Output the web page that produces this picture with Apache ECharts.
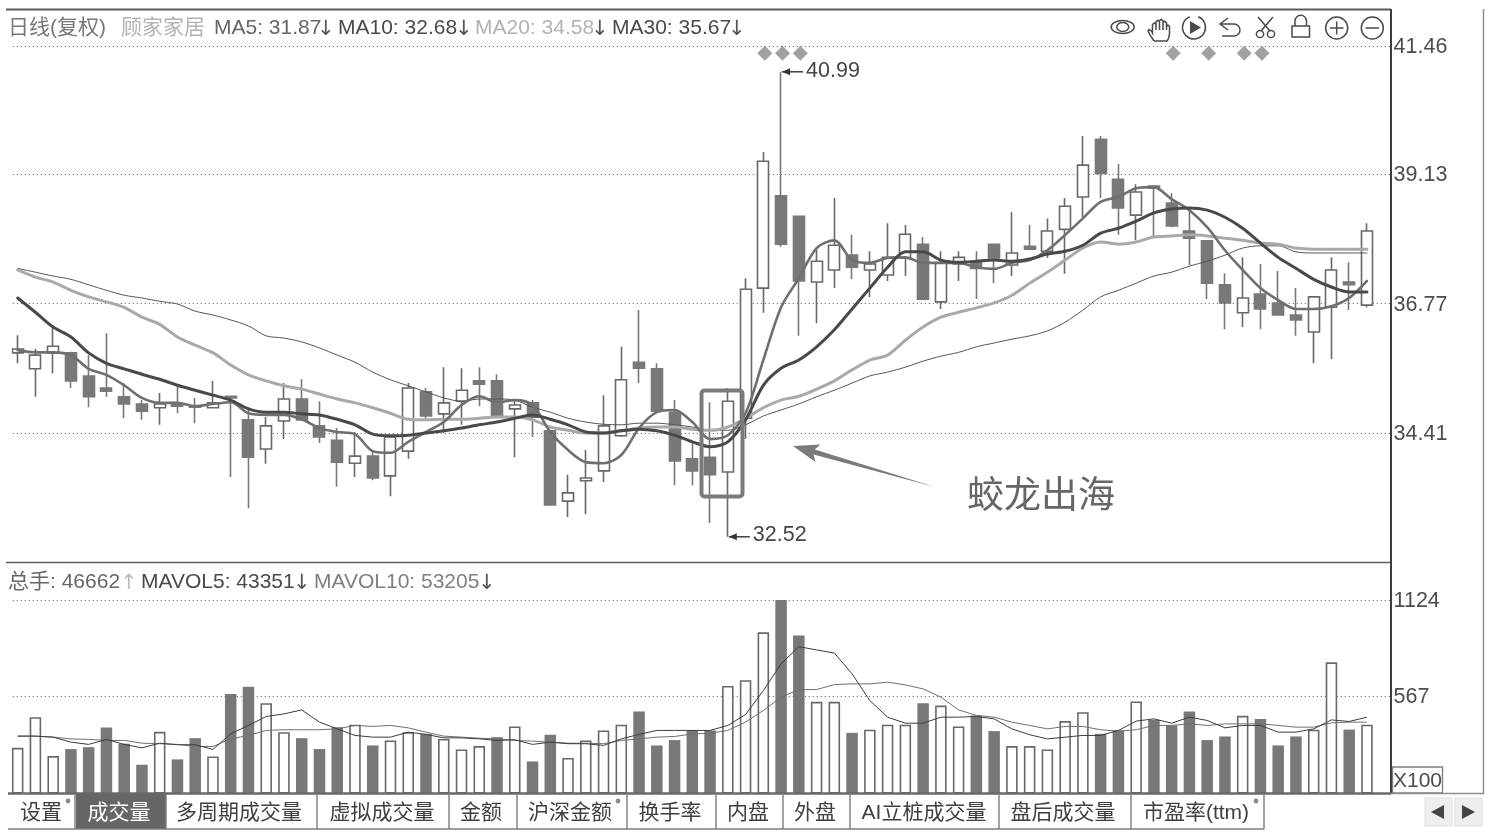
<!DOCTYPE html>
<html>
<head>
<meta charset="utf-8">
<title>顾家家居 日线</title>
<style>
  html, body { margin: 0; padding: 0; background: #fff; }
  #chart { width: 1489px; height: 834px; }
</style>
<script src="https://cdn.jsdelivr.net/npm/echarts@6/dist/echarts.min.js"></script>
</head>
<body>
<div id="chart"></div>
<script>
// Daily prices, oldest first
const opens = [35.87,35.58,35.87,35.87,35.45,35.23,35.07,34.94,34.87,34.94,
  34.90,34.87,35.08,34.65,34.12,34.63,35.03,34.54,34.28,33.86,
  33.99,33.63,34.08,35.16,34.76,34.99,35.36,35.36,34.85,34.96,
  34.45,33.17,33.54,33.72,34.36,35.70,35.58,34.79,33.94,33.97,
  33.70,34.68,37.05,38.73,38.36,37.16,37.38,37.65,37.38,37.29,
  37.60,37.85,36.80,37.49,37.51,37.85,37.47,37.81,37.72,38.12,
  38.71,39.76,39.03,38.38,38.91,38.60,38.09,37.91,37.11,36.60,
  36.94,36.78,36.56,36.25,36.70,37.16,36.74];
const closes = [35.94,35.83,35.99,35.36,35.07,35.17,34.94,34.81,34.94,34.90,
  34.88,34.96,35.05,33.97,34.54,35.03,34.65,34.34,33.88,33.99,
  33.59,34.34,35.23,34.72,34.96,35.19,35.30,34.72,34.92,34.70,
  33.10,33.32,33.59,34.54,35.38,35.59,34.81,33.90,33.72,33.65,
  34.99,37.03,39.36,37.85,37.18,37.54,37.83,37.43,37.49,37.61,
  38.03,36.85,37.51,37.61,37.41,37.60,37.69,37.76,38.09,38.54,
  39.29,39.14,38.51,38.80,38.87,38.18,37.96,37.14,36.78,36.87,
  36.67,36.56,36.47,36.89,37.38,37.11,38.09];
const lows = [35.68,35.07,35.50,35.23,34.88,35.07,34.68,34.65,34.56,34.77,
  34.59,34.87,33.61,33.04,33.85,34.30,34.65,34.23,33.43,33.61,
  33.55,33.26,33.94,34.68,34.41,34.56,34.90,34.70,33.97,34.34,
  33.10,32.88,32.93,33.52,34.34,35.32,34.79,33.46,33.46,32.77,
  32.52,34.30,36.60,37.80,36.18,36.41,37.05,37.21,36.89,37.18,
  37.27,36.85,36.67,37.18,36.85,37.14,37.27,37.74,37.60,37.31,
  38.34,38.69,38.02,37.92,38.00,38.16,37.47,36.85,36.30,36.34,
  36.30,36.56,36.18,35.68,35.76,36.65,36.70];
const highs = [36.19,35.94,36.34,35.89,35.83,36.23,35.32,35.01,35.14,35.27,
  35.05,35.36,35.08,34.88,34.70,35.32,35.39,34.99,34.50,34.43,
  34.06,34.37,35.32,35.23,35.61,35.59,35.61,35.48,35.01,35.01,
  34.46,33.65,34.10,35.10,35.98,36.65,35.68,35.01,34.23,34.97,
  35.23,37.23,39.53,40.99,38.36,37.76,38.69,38.02,37.72,38.23,
  38.20,37.98,37.72,37.72,37.72,37.85,38.43,38.20,38.32,38.69,
  39.82,39.82,39.31,38.94,38.91,38.78,38.47,37.91,37.32,37.61,
  37.49,37.36,37.05,36.89,37.61,37.52,38.23];

// Moving averages of the close
const ma5 = [35.92,35.88,35.88,35.83,35.58,35.47,35.28,35.05,34.96,34.96,
  34.90,34.94,34.97,34.77,34.74,34.74,34.66,34.50,34.43,34.39,
  34.08,34.05,34.25,34.43,34.61,34.92,35.08,34.97,35.01,34.92,
  34.43,34.10,33.88,33.86,34.01,34.50,34.79,34.83,34.61,34.30,
  34.37,34.77,35.74,36.70,37.23,37.78,37.92,37.56,37.51,37.60,
  37.61,37.51,37.51,37.51,37.43,37.40,37.51,37.56,37.74,38.02,
  38.32,38.62,38.71,38.87,38.89,38.67,38.47,38.16,37.74,37.38,
  37.05,36.83,36.67,36.67,36.72,36.87,37.18];
const ma10 = [36.87,36.61,36.34,36.16,35.87,35.68,35.58,35.48,35.39,35.28,
  35.19,35.10,35.01,34.85,34.79,34.79,34.76,34.74,34.66,34.56,
  34.39,34.36,34.37,34.41,34.45,34.50,34.56,34.61,34.68,34.74,
  34.66,34.56,34.43,34.41,34.45,34.48,34.45,34.37,34.25,34.16,
  34.25,34.65,35.28,35.59,35.74,35.98,36.29,36.67,37.05,37.43,
  37.71,37.71,37.56,37.52,37.54,37.56,37.54,37.58,37.67,37.72,
  37.83,38.05,38.14,38.27,38.42,38.49,38.51,38.47,38.34,38.14,
  37.87,37.61,37.41,37.21,37.07,36.98,36.98];
const ma20 = [37.38,37.25,37.16,37.01,36.89,36.80,36.70,36.52,36.39,36.16,
  36.01,35.87,35.65,35.47,35.36,35.27,35.21,35.12,35.03,34.96,
  34.87,34.77,34.66,34.65,34.66,34.66,34.68,34.70,34.70,34.65,
  34.52,34.46,34.41,34.41,34.45,34.50,34.52,34.52,34.48,34.46,
  34.52,34.68,34.87,35.01,35.08,35.21,35.36,35.56,35.74,35.83,
  36.10,36.34,36.52,36.61,36.69,36.78,36.92,37.14,37.34,37.56,
  37.78,37.89,37.85,37.89,37.98,38.00,38.02,38.00,37.96,37.92,
  37.87,37.85,37.78,37.76,37.76,37.76,37.76];
const ma30 = [37.41,37.34,37.27,37.21,37.11,37.01,36.92,36.87,36.81,36.76,
  36.63,36.56,36.47,36.36,36.18,36.14,36.07,35.96,35.83,35.70,
  35.52,35.38,35.27,35.16,35.05,34.99,35.03,35.03,35.01,34.88,
  34.79,34.68,34.61,34.57,34.56,34.59,34.59,34.56,34.52,34.46,
  34.46,34.56,34.72,34.83,34.94,35.07,35.19,35.32,35.45,35.52,
  35.61,35.72,35.81,35.88,35.98,36.05,36.12,36.18,36.27,36.43,
  36.65,36.89,37.01,37.14,37.27,37.34,37.45,37.54,37.65,37.78,
  37.82,37.82,37.71,37.69,37.69,37.69,37.69];

// Volume in hundreds of lots; 1 marks a solid (falling-day) bar
const volumes = [266,444,218,259,270,384,290,168,359,199,
  322,216,579,620,525,357,322,259,386,400,
  280,309,357,347,318,257,276,328,390,187,
  342,207,309,367,400,477,280,311,367,367,
  625,658,936,1124,917,533,533,353,371,400,
  400,525,511,390,454,363,276,276,257,421,
  473,347,367,535,428,396,477,311,332,452,
  434,280,332,371,762,372,400];
const volumeSolid = [0,0,0,1,1,1,1,1,0,1,
  1,0,1,1,0,0,1,1,1,0,
  1,0,0,1,0,0,0,1,0,1,
  1,0,0,0,0,1,1,1,1,1,
  0,0,0,1,1,0,0,1,0,0,
  0,1,0,0,1,1,0,0,0,0,
  0,1,1,0,1,1,1,1,1,0,
  1,1,1,0,0,1,0];
const mavol5 = [334,334,328,299,286,315,286,266,293,284,
  284,257,347,396,448,463,486,415,376,338,
  328,328,357,344,324,324,318,309,313,286,
  299,290,290,280,318,344,367,367,367,367,
  396,459,598,753,853,834,816,695,540,444,
  409,409,444,444,448,434,376,342,318,328,
  338,338,367,421,434,409,444,425,382,396,
  396,357,357,376,428,419,444];
const mavol10 = [334,334,328,318,315,309,309,293,290,286,
  274,274,318,338,367,371,371,371,376,396,
  390,396,382,357,334,328,322,318,309,305,
  299,293,293,290,309,318,328,332,347,351,
  367,415,483,560,604,604,633,637,637,647,
  631,608,560,486,454,444,415,396,376,390,
  390,371,363,371,396,396,405,396,405,405,
  405,396,386,386,411,415,415];

// Axis ticks and signal days
const priceTicks = [34.41, 36.77, 39.13, 41.46];
const volumeTicks = [567, 1124];
const signalDays = [42, 43, 44, 65, 67, 69, 70];
const signalLevel = 41.33;

// One spare slot on the right keeps the last candle clear of the price scale
const days = Array.from({ length: opens.length + 1 }, (_, i) => String(i));

const candles = opens.map((o, i) => [o, closes[i], lows[i], highs[i]]);
const LATIN = "'Liberation Sans','Noto Sans CJK SC',sans-serif";
const GRID = { type: [1, 3], color: '#5a5a5a', width: 1 };
const DOWN = '#787878';
const EDGE = '#686868';

// Scale labels sit a little below their gridline
const scaleLabel = {
  margin: 0,
  rich: { n: { color: '#4d4d4d', fontSize: 21.5, fontFamily: LATIN, padding: [3, 0, 0, 0] } }
};

function maLine(name, data, color, width) {
  return {
    name, type: 'line', data, xAxisIndex: 0, yAxisIndex: 0,
    showSymbol: false, smooth: 0.3, z: 4, silent: true,
    lineStyle: { color, width, cap: 'round', join: 'round' }
  };
}
function volLine(name, data, color) {
  return {
    name, type: 'line', data, xAxisIndex: 1, yAxisIndex: 1,
    showSymbol: false, z: 4, silent: true,
    lineStyle: { color, width: 1 }
  };
}

const chart = echarts.init(document.getElementById('chart'), null, { renderer: 'canvas' });

chart.setOption({
  animation: false,
  backgroundColor: '#fff',
  grid: [
    { left: 8.79, top: 9, width: 1384.8, height: 553 },
    { left: 8.79, top: 562, width: 1384.8, height: 231.7 }
  ],
  xAxis: [0, 1].map(g => ({
    type: 'category', gridIndex: g, data: days, show: false,
    axisTick: { show: false }, axisLabel: { show: false }
  })),
  yAxis: [
    {
      type: 'value', gridIndex: 0, position: 'right', min: 32.061, max: 42.134,
      axisLine: { show: false },
      axisTick: { show: false, customValues: priceTicks },
      axisLabel: { ...scaleLabel, customValues: priceTicks, formatter: v => '{n|' + v.toFixed(2) + '}' },
      splitLine: { show: true, lineStyle: GRID }
    },
    {
      type: 'value', gridIndex: 1, position: 'right', min: 0, max: 1344,
      axisLine: { show: false },
      axisTick: { show: false, customValues: volumeTicks },
      axisLabel: { ...scaleLabel, customValues: volumeTicks, formatter: v => '{n|' + v + '}' },
      splitLine: { show: true, lineStyle: GRID }
    }
  ],
  series: [
    {
      name: '日线', type: 'candlestick', data: candles, xAxisIndex: 0, yAxisIndex: 0,
      barWidth: 11.5, z: 3, silent: true,
      itemStyle: {
        color: '#fff', color0: DOWN, borderColor: EDGE, borderColor0: DOWN, borderWidth: 1.6
      }
    },
    maLine('MA30', ma30, '#555', 1),
    maLine('MA20', ma20, '#a9a9a9', 3),
    maLine('MA5', ma5, '#6f6f6f', 2.6),
    maLine('MA10', ma10, '#494949', 3),
    {
      name: '信号', type: 'scatter', data: signalDays.map(d => [d, signalLevel]),
      xAxisIndex: 0, yAxisIndex: 0, symbol: 'diamond', symbolSize: 15,
      symbolOffset: [1.5, 0], itemStyle: { color: '#8a8a8a' }, z: 5, silent: true
    },
    {
      name: '总手', type: 'bar', xAxisIndex: 1, yAxisIndex: 1, barWidth: 11.5, z: 3, silent: true,
      data: volumes.map((v, i) => ({
        value: v,
        itemStyle: volumeSolid[i]
          ? { color: DOWN }
          : { color: '#fff', borderColor: EDGE, borderWidth: 1.6 }
      }))
    },
    volLine('MAVOL10', mavol10, '#707070'),
    volLine('MAVOL5', mavol5, '#3d3d3d')
  ]
});

// Drawing helpers for the terminal's chrome
const TOP = 20;
const INK = '#4a4a4a';
const text = (s, x, y, size, fill, align, family) => ({
  type: 'text', z: TOP, silent: true,
  style: { text: s, x, y, fill, align: align || 'left', verticalAlign: 'middle', font: size + 'px ' + (family || LATIN) }
});
const arrowText = (s, x, y, fill) => text(s, x, y, 21, fill, 'left', "'DejaVu Sans'");
const line = (x1, y1, x2, y2, stroke, lineWidth) => ({
  type: 'line', z: TOP, silent: true, shape: { x1, y1, x2, y2 }, style: { stroke, lineWidth }
});
const rect = (x, y, width, height, fill, stroke, lineWidth, r) => ({
  type: 'rect', z: TOP - 1, silent: true, shape: { x, y, width, height, r: r || 0 },
  style: { fill: fill || 'none', stroke: stroke || 'none', lineWidth: lineWidth || 0 }
});
const ring = (cx, cy, r) => ({
  type: 'circle', z: TOP, silent: true, shape: { cx, cy, r },
  style: { fill: 'none', stroke: INK, lineWidth: 1.5 }
});
const poly = (points, fill) => ({
  type: 'polygon', z: TOP, silent: true, shape: { points }, style: { fill }
});
const stroke = (points) => ({
  type: 'polyline', z: TOP, silent: true, shape: { points },
  style: { fill: 'none', stroke: INK, lineWidth: 1.5 }
});
const arc = (cx, cy, r, startAngle, endAngle) => ({
  type: 'arc', z: TOP, silent: true, shape: { cx, cy, r, startAngle, endAngle, clockwise: true },
  style: { fill: 'none', stroke: INK, lineWidth: 1.5 }
});
const ellipse = (cx, cy, rx, ry) => ({
  type: 'ellipse', z: TOP, silent: true, shape: { cx, cy, rx, ry },
  style: { fill: 'none', stroke: INK, lineWidth: 1.5 }
});

// Outline of the hand tool, as offsets from its top-left corner
const handOutline = [[6,22],[3,17.5],[0,12],[1,10.5],[3.5,12],[4.5,14],[4.5,5.5],[6.2,4],[8,5.5],[8,11],
  [8,2.8],[9.8,1.3],[11.5,2.8],[11.5,11],[11.5,1.8],[13.2,0.3],[15,1.8],[15,11],[15,3.8],[16.7,2.3],
  [18.5,3.8],[18.5,11],[18.5,7.5],[20,6],[21.5,7.5],[21.5,15],[20.5,19.5],[19,22],[6,22]];

// Tab strip under the volume pane
const tabs = [
  ['设置', 41, 75], ['成交量', 119, 166], ['多周期成交量', 239, 317], ['虚拟成交量', 382, 449],
  ['金额', 481, 517], ['沪深金额', 570, 627], ['换手率', 670, 716], ['内盘', 748, 783],
  ['外盘', 815, 850], ['AI立桩成交量', 924, 999], ['盘后成交量', 1063, 1131], ['市盈率(ttm)', 1196, 1264]
];
const tabMarks = [68, 618, 1256];

// Price-extreme callouts take their numbers from the candle arrays
const callout = (day, price, lift) => {
  const [x, y] = chart.convertToPixel({ xAxisIndex: 0, yAxisIndex: 0 }, [day, price]);
  return [
    line(x + 1, y, x + 22, y, '#333', 1.4),
    poly([[x + 1, y], [x + 9, y - 3.5], [x + 9, y + 3.5]], '#333'),
    text(price.toFixed(2), x + 25, y - lift, 21.5, '#444')
  ];
};

const elements = [
  // Trim the gridlines to the plot frame
  rect(0, 9, 11.5, 785, '#fff'),
  rect(1391.5, 9, 2.3, 785, '#fff'),

  // Frame
  line(6, 9.5, 1391, 9.5, '#5c5c5c', 2),
  line(6, 562.5, 1391, 562.5, '#5c5c5c', 1.6),
  line(1391, 9, 1391, 794, '#3c3c3c', 2),
  line(1483.5, 9, 1483.5, 794, '#8c8c8c', 1.4),
  line(8, 793.5, 1391, 793.5, '#696969', 2.4),
  line(1391, 793.5, 1484, 793.5, '#8c8c8c', 1.4),
  line(8, 829, 1264, 829, '#7c7c7c', 1.6),

  // Header of the price pane
  text('日线(复权)', 8, 28, 21, '#777'),
  text('顾家家居', 121, 28, 21, '#b2b2b2'),
  text('MA5: 31.87', 214, 28, 21, '#666'),
  arrowText('↓', 317, 30, '#555'),
  text('MA10: 32.68', 338, 28, 21, '#4a4a4a'),
  arrowText('↓', 455, 30, '#555'),
  text('MA20: 34.58', 475, 28, 21, '#b2b2b2'),
  arrowText('↓', 591, 30, '#555'),
  text('MA30: 35.67', 612, 28, 21, '#4a4a4a'),
  arrowText('↓', 728, 30, '#555'),

  // Header of the volume pane
  text('总手: 46662', 8, 582, 21, '#666'),
  arrowText('↑', 120, 584, '#bbb'),
  text('MAVOL5: 43351', 141, 582, 21, '#4a4a4a'),
  arrowText('↓', 293, 584, '#555'),
  text('MAVOL10: 53205', 314, 582, 21, '#808080'),
  arrowText('↓', 478, 584, '#555'),

  // Unit box
  rect(1392.5, 767, 50, 26, '#fff', '#808080', 1.4),
  text('X100', 1417.5, 781, 21, '#4d4d4d', 'center'),

  // Toolbar: eye
  ellipse(1122.7, 27, 11.5, 6.5),
  ellipse(1122.7, 27, 6, 4.5),
  // hand
  stroke(handOutline.map(([dx, dy]) => [1148 + dx, 19 + dy])),
  // play
  arc(1194, 27.5, 11.5, -Math.PI * 0.38, -Math.PI * 0.62),
  poly([[1190, 21], [1190, 34], [1201, 27.5]], INK),
  // undo
  stroke([[1228, 18], [1220, 24], [1228, 30]]),
  stroke([[1220, 24], [1234, 24]]),
  arc(1234, 30, 6, -Math.PI / 2, Math.PI / 2),
  stroke([[1234, 36], [1222, 36]]),
  // scissors
  line(1258, 17, 1270, 31, INK, 1.5),
  line(1273, 17, 1261, 31, INK, 1.5),
  ring(1260, 34, 3.6),
  ring(1271, 34, 3.6),
  // lock
  rect(1292, 26, 17.5, 11, 'none', INK, 1.5),
  stroke([[1295, 26], [1295, 21]]),
  stroke([[1306.5, 26], [1306.5, 21]]),
  arc(1300.75, 21, 5.75, Math.PI, 0),
  // zoom in, zoom out
  ring(1336.7, 28, 11),
  line(1330, 28, 1343.5, 28, INK, 1.5),
  line(1336.7, 21.5, 1336.7, 34.5, INK, 1.5),
  ring(1372.3, 28, 11),
  line(1365.5, 28, 1379, 28, INK, 1.5),

  // Marked pattern and its caption
  rect(701.5, 390.5, 41, 106, 'none', '#7a7a7a', 4, 3),
  poly([[793, 446], [820.5, 444.5], [814.7, 449.6], [935, 487], [813.5, 454.5], [815.5, 462]], '#7a7a7a'),
  text('蛟龙出海', 967, 498, 37, '#666'),

  ...callout(43, highs[43], 0.5),
  ...callout(40, lows[40], 2),

  // Tabs
  rect(76, 793, 90, 36, '#666'),
  ...tabs.map(([label, cx, edge]) => line(edge, 795, edge, 829, '#7c7c7c', 1.4)),
  ...tabs.map(([label, cx], i) => text(label, cx, 813, 21, i === 1 ? '#fff' : '#3f3f3f', 'center')),
  ...tabMarks.map(cx => ({
    type: 'circle', z: TOP, silent: true, shape: { cx, cy: 801, r: 2.4 }, style: { fill: '#8a8a8a' }
  })),

  // Scroll buttons
  rect(1425, 798, 27, 28, '#eeeeee', '#e0e0e0', 1),
  rect(1455, 798, 27, 28, '#eeeeee', '#e0e0e0', 1),
  poly([[1431, 812], [1444, 805], [1444, 819]], '#444'),
  poly([[1475, 812], [1462, 805], [1462, 819]], '#444')
];

chart.setOption({ graphic: { elements } });
</script>
</body>
</html>
